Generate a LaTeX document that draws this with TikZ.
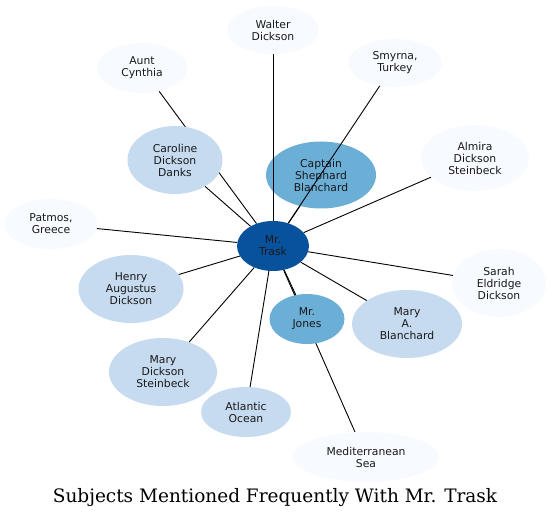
\documentclass[tikz,border=0pt]{standalone}
\usepackage{fontspec}
\setmainfont{DejaVu Serif}
\setsansfont{DejaVu Sans}
\usetikzlibrary{shapes.geometric, positioning, backgrounds}
\definecolor{hubblue}{HTML}{08519C}
\definecolor{midblue}{HTML}{6BAED6}
\definecolor{paleblue}{HTML}{C6DBEF}
\definecolor{faintblue}{HTML}{F7FBFF}

\begin{document}
\begin{tikzpicture}[
  x=1pt, y=-1pt,
  topic/.style = {ellipse, inner sep=0pt, align=center, text=black!90,
                  font=\sffamily\fontsize{10.8}{12}\selectfont},
  link/.style  = {draw=black, line width=0.9pt},
]
  \useasboundingbox (0,0) rectangle (551,518);

  % centre and the most frequent subjects
  \node[topic, fill=hubblue,   minimum width=72pt,  minimum height=50pt] (trask)    at (273,246) {Mr.\\Trask};
  \node[topic, fill=midblue,   minimum width=110pt, minimum height=67pt] (captain)  at (321,175) {Captain\\Shephard\\Blanchard};
  \node[topic, fill=midblue,   minimum width=75pt,  minimum height=50pt] (jones)    at (307,319) {Mr.\\Jones};
  \node[topic, fill=paleblue,  minimum width=95pt,  minimum height=68pt] (caroline) at (175,160) {Caroline\\Dickson\\Danks};
  \node[topic, fill=paleblue,  minimum width=105pt, minimum height=68pt] (henry)    at (131,289) {Henry\\Augustus\\Dickson};
  \node[topic, fill=paleblue,  minimum width=108pt, minimum height=68pt] (marysteinbeck) at (163,372) {Mary\\Dickson\\Steinbeck};
  \node[topic, fill=paleblue,  minimum width=90pt,  minimum height=50pt] (atlantic) at (246,412) {Atlantic\\Ocean};
  \node[topic, fill=paleblue,  minimum width=110pt, minimum height=68pt] (maryblanchard) at (407,324) {Mary\\A.\\Blanchard};
  % less frequent subjects
  \node[topic, fill=faintblue, minimum width=92pt,  minimum height=48pt] (walter)   at (273,30)  {Walter\\Dickson};
  \node[topic, fill=faintblue, minimum width=90pt,  minimum height=50pt] (aunt)     at (142,68)  {Aunt\\Cynthia};
  \node[topic, fill=faintblue, minimum width=94pt,  minimum height=48pt] (smyrna)   at (395,63)  {Smyrna,\\Turkey};
  \node[topic, fill=faintblue, minimum width=108pt, minimum height=66pt] (almira)   at (475,158) {Almira\\Dickson\\Steinbeck};
  \node[topic, fill=faintblue, minimum width=94pt,  minimum height=68pt] (sarah)    at (499,283) {Sarah\\Eldridge\\Dickson};
  \node[topic, fill=faintblue, minimum width=93pt,  minimum height=50pt] (patmos)   at (51,224)  {Patmos,\\Greece};
  \node[topic, fill=faintblue, minimum width=146pt, minimum height=50pt] (med)      at (366,457) {Mediterranean\\Sea};

  \begin{scope}[on background layer]
    \draw[link] (trask) -- (aunt);
    \draw[link] (trask) -- (med);
  \end{scope}

  \foreach \other in {walter, smyrna, captain, almira, sarah, maryblanchard,
                      jones, atlantic, marysteinbeck, henry, patmos, caroline}
    \draw[link] (trask) -- (\other);

  \node[font=\fontsize{18.5}{20}\selectfont] (title) at (275,498)
    {Subjects Mentioned Frequently With Mr. Trask};
\end{tikzpicture}
\end{document}
